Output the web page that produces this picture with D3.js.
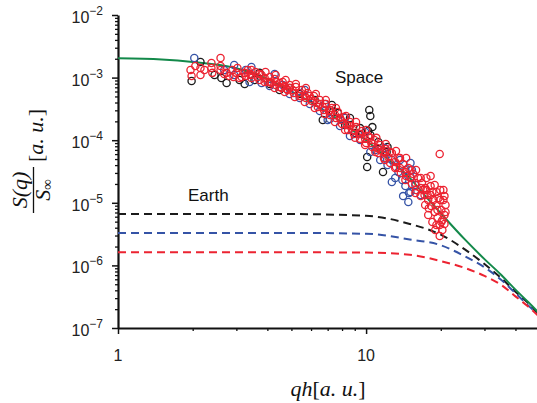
<!DOCTYPE html>
<html>
<head>
<meta charset="utf-8">
<script src="https://cdn.jsdelivr.net/npm/d3@7/dist/d3.min.js"></script>
<style>
  html, body { margin: 0; padding: 0; background: #fff; }
  svg { display: block; }
  .tick-label { font-family: "Liberation Sans", Arial, sans-serif; font-size: 16px; fill: #222; }
  .math { font-family: "Liberation Serif", serif; fill: #111; }
  .note { font-family: "Liberation Sans", Arial, sans-serif; font-size: 17px; fill: #111; }
</style>
</head>
<body>
<svg id="chart" width="537" height="403"></svg>
<script>
// ---- data: [qh, S(q)/S_inf] ----

var spaceBlack = [
  [2.15, 1.78e-3], [1.98, 8.83e-4], [2.45, 1.10e-3], [2.61, 9.86e-4], [2.74, 8.21e-4],
  [3.72, 1.19e-3], [3.09, 9.16e-4], [3.24, 7.91e-4], [3.55, 9.16e-4], [4.48, 6.34e-4],
  [5.40, 5.47e-4], [7.28, 3.65e-4], [7.35, 2.82e-4], [7.70, 2.72e-4], [6.69, 2.10e-4],
  [10.3, 3.04e-4], [10.4, 2.44e-4], [10.6, 1.62e-4], [10.2, 1.40e-4], [10.4, 1.21e-4],
  [12.2, 7.79e-5], [12.1, 6.48e-5], [10.1, 5.39e-5], [10.1, 3.74e-5], [11.7, 3.11e-5],
  [8.23, 1.75e-4], [9.02, 1.30e-4], [6.21, 4.39e-4], [4.92, 6.83e-4], [4.09, 7.91e-4],
  [8.61, 2.26e-4], [9.46, 1.56e-4], [11.2, 9.36e-5]
];

var spaceBlue = [
  [2.03, 2.06e-3], [2.94, 1.10e-3], [3.45, 1.48e-3], [3.39, 8.51e-4], [3.79, 8.21e-4],
  [4.61, 7.62e-4], [5.40, 4.72e-4], [6.51, 2.93e-4], [7.85, 1.68e-4], [9.46, 1.01e-4],
  [10.9, 6.97e-5], [11.9, 5.20e-5], [12.7, 4.83e-5], [12.7, 2.15e-5], [15.1, 4.33e-5],
  [15.1, 1.49e-5], [14.8, 1.03e-5], [15.1, 2.59e-5], [14.9, 1.43e-5], [13.5, 3.11e-5],
  [14.0, 2.31e-5], [12.2, 4.02e-5], [11.4, 4.83e-5], [10.4, 6.48e-5], [8.61, 1.17e-4],
  [7.15, 2.18e-4], [5.93, 3.79e-4], [4.92, 5.47e-4], [4.09, 7.35e-4], [2.68, 1.32e-3],
  [3.27, 1.32e-3], [4.28, 1.14e-3], [5.66, 6.34e-4], [6.82, 3.79e-4], [8.23, 2.26e-4],
  [9.91, 1.35e-4], [11.9, 7.51e-5], [13.7, 4.83e-5], [14.4, 3.34e-5], [15.8, 1.92e-5],
  [16.6, 1.33e-5], [13.1, 2.49e-5], [14.1, 1.28e-5], [15.3, 3.34e-5], [14.4, 1.85e-5],
  [2.94, 1.59e-3], [7.00, 2.10e-4]
];

var spaceRed = [
  [1.96, 1.32e-3], [2.05, 1.53e-3], [2.15, 1.42e-3], [2.15, 1.10e-3], [1.98, 1.06e-3],
  [2.38, 1.71e-3], [2.38, 1.42e-3], [2.40, 1.19e-3], [2.59, 2.06e-3], [2.59, 1.53e-3],
  [2.59, 1.32e-3], [2.74, 1.19e-3], [2.81, 1.06e-3], [2.89, 1.32e-3], [3.00, 1.19e-3],
  [3.03, 1.42e-3], [3.15, 1.02e-3], [3.24, 1.19e-3], [3.33, 1.32e-3], [3.45, 1.32e-3],
  [3.45, 1.10e-3], [3.58, 1.23e-3], [3.65, 1.02e-3], [3.79, 1.10e-3], [3.90, 9.86e-4],
  [4.01, 8.51e-4], [4.09, 1.02e-3], [4.16, 8.21e-4], [4.28, 9.51e-4], [4.36, 8.51e-4],
  [4.48, 7.08e-4], [4.61, 8.51e-4], [4.79, 6.58e-4], [4.92, 7.62e-4], [5.06, 6.34e-4],
  [5.21, 7.08e-4], [5.36, 5.68e-4], [5.51, 6.34e-4], [5.66, 5.08e-4], [5.82, 5.68e-4],
  [5.99, 4.55e-4], [6.16, 5.08e-4], [6.33, 3.93e-4], [6.51, 4.39e-4], [6.69, 3.39e-4],
  [6.88, 3.79e-4], [7.08, 2.93e-4], [7.28, 3.27e-4], [7.49, 2.53e-4], [7.70, 2.82e-4],
  [7.92, 2.10e-4], [8.15, 2.35e-4], [8.38, 1.75e-4], [8.61, 1.95e-4], [8.86, 1.46e-4],
  [9.11, 1.62e-4], [9.37, 1.26e-4], [9.64, 1.40e-4], [9.91, 1.05e-4], [10.2, 1.17e-4],
  [10.5, 9.02e-5], [10.8, 1.01e-4], [11.1, 7.51e-5], [11.4, 8.38e-5], [11.7, 6.48e-5],
  [12.0, 7.23e-5], [12.3, 5.39e-5], [12.7, 6.24e-5], [13.1, 4.49e-5], [13.5, 5.20e-5],
  [13.7, 3.60e-5], [14.1, 4.17e-5], [14.4, 3.11e-5], [14.8, 3.60e-5], [15.1, 2.49e-5],
  [15.5, 2.89e-5], [15.8, 2.07e-5], [16.2, 2.49e-5], [16.6, 1.72e-5], [16.8, 2.07e-5],
  [17.2, 1.33e-5], [17.5, 1.60e-5], [17.8, 1.11e-5], [18.2, 1.33e-5], [18.3, 8.89e-6],
  [18.7, 1.11e-5], [18.9, 7.13e-6], [19.2, 9.22e-6], [19.4, 5.71e-6], [19.6, 1.19e-5],
  [19.8, 4.42e-6], [19.9, 1.60e-5], [20.1, 7.67e-6], [20.3, 5.31e-6], [20.5, 1.11e-5],
  [20.7, 6.38e-6], [20.9, 9.22e-6], [19.0, 3.67e-6], [19.8, 2.95e-6], [18.5, 4.94e-6],
  [17.8, 6.38e-6], [17.3, 9.22e-6], [16.6, 1.28e-5], [18.2, 1.85e-5], [19.2, 1.49e-5],
  [20.3, 3.67e-6], [20.7, 4.59e-6], [19.8, 6.02e-5], [18.2, 2.68e-5], [15.9, 1.60e-5],
  [15.3, 2.00e-5], [14.5, 2.68e-5], [13.8, 3.00e-5], [13.2, 3.74e-5], [12.5, 4.33e-5],
  [11.8, 5.20e-5], [11.2, 6.24e-5], [10.6, 7.79e-5], [10.0, 9.02e-5], [9.46, 1.05e-4],
  [8.94, 1.26e-4], [8.46, 1.46e-4], [8.00, 1.81e-4], [7.56, 2.26e-4], [7.15, 2.53e-4],
  [6.76, 3.04e-4], [6.39, 3.39e-4], [6.04, 4.23e-4], [5.72, 4.72e-4], [5.40, 5.08e-4],
  [5.11, 5.68e-4], [4.83, 6.34e-4], [4.57, 6.83e-4], [4.32, 7.62e-4], [4.09, 8.51e-4],
  [3.72, 9.16e-4], [3.45, 9.86e-4], [3.27, 1.06e-3], [3.09, 9.86e-4], [2.92, 1.02e-3],
  [9.11, 1.95e-4], [8.30, 2.44e-4], [7.56, 3.27e-4], [6.88, 4.39e-4], [6.27, 5.47e-4],
  [5.72, 6.83e-4], [5.21, 7.91e-4], [4.74, 9.16e-4], [4.32, 1.10e-3], [3.93, 1.23e-3],
  [10.0, 1.46e-4], [11.0, 1.09e-4], [12.0, 8.70e-5], [13.2, 6.72e-5], [14.5, 5.20e-5],
  [15.9, 3.34e-5], [17.5, 2.49e-5],
  [4.28, 6.83e-4], [4.70, 5.89e-4], [5.16, 4.90e-4], [5.66, 4.08e-4], [6.21, 3.27e-4],
  [6.82, 2.62e-4], [7.49, 1.95e-4], [8.23, 1.46e-4], [9.02, 1.09e-4], [9.91, 8.38e-5],
  [10.9, 6.48e-5], [11.9, 4.83e-5], [13.1, 3.60e-5], [14.4, 2.31e-5], [15.8, 1.43e-5],
  [4.48, 8.21e-4], [4.92, 6.83e-4], [5.93, 5.08e-4], [6.51, 3.79e-4], [7.15, 3.04e-4],
  [7.85, 2.26e-4], [8.61, 1.68e-4], [9.46, 1.26e-4], [10.4, 1.09e-4], [11.4, 6.97e-5],
  [12.5, 6.48e-5], [13.7, 5.20e-5], [15.1, 3.34e-5], [16.6, 2.49e-5], [17.3, 1.72e-5],
  [18.5, 1.49e-5], [19.4, 7.67e-6], [19.9, 1.11e-5], [20.5, 1.60e-5], [18.9, 1.92e-5],
  [17.9, 8.20e-6], [20.1, 4.94e-6], [19.2, 4.42e-6], [17.7, 1.33e-5], [17.0, 1.60e-5],
  [20.7, 1.28e-5], [20.9, 7.13e-6], [2.23, 1.32e-3], [2.68, 1.14e-3], [3.39, 1.14e-3],
  [3.72, 1.14e-3], [3.90, 8.51e-4], [4.70, 7.35e-4]
];

// fitted curve through the space data (solid green)
var fitQ = [1, 1.5, 2, 3, 4, 5, 6, 7, 8, 10, 12, 15, 17, 20, 25, 30, 35, 40, 45, 50];
var fitS = [2.04e-3, 1.95e-3, 1.78e-3, 1.41e-3, 9.5e-4, 6.0e-4, 4.0e-4, 2.75e-4, 1.9e-4,
  1.0e-4, 5.4e-5, 2.5e-5, 1.4e-5, 6.8e-6, 2.6e-6, 1.26e-6, 7.1e-7, 4.1e-7, 2.6e-7, 1.7e-7];

// earth curves (dashed)
var earthQ = [1, 5, 10, 15, 20, 25, 30, 35, 40, 45, 50];
var earthBlack = [6.6e-6, 6.6e-6, 6.2e-6, 4.6e-6, 3.1e-6, 1.8e-6, 1.05e-6, 6.3e-7, 3.8e-7, 2.5e-7, 1.6e-7];
var earthBlue = [3.3e-6, 3.3e-6, 3.2e-6, 2.6e-6, 2.1e-6, 1.4e-6, 9.3e-7, 5.9e-7, 3.6e-7, 2.3e-7, 1.55e-7];
var earthRed = [1.62e-6, 1.62e-6, 1.6e-6, 1.48e-6, 1.17e-6, 9.1e-7, 6.8e-7, 4.9e-7, 3.2e-7, 2.2e-7, 1.5e-7];

var xMajor = [1, 10];
var xMinor = [2, 3, 4, 5, 6, 7, 8, 9, 20, 30, 40];
var yExponents = [-2, -3, -4, -5, -6, -7];

var colors = {black: '#1b1b1b', blue: '#3553a6', red: '#ec2331', green: '#13894a'};

// ---- layout ----

var svg = d3.select('#chart');

var x = d3.scaleLog().domain([1, 50]).range([118, 539.5]);
var y = d3.scaleLog().domain([1e-7, 1e-2]).range([328, 15]);

/**
 * Minor ticks for a log axis: 2..9 times every decade in the domain.
 */
function logMinorTicks(lo, hi) {
  var ticks = [];
  for (var e = lo; e < hi; e++) {
    for (var m = 2; m <= 9; m++) {
      ticks.push(m * Math.pow(10, e));
    }
  }
  return ticks;
}

/**
 * Draws an axis line with outward major and minor ticks.
 */
function drawAxis(axisFn, scale, major, minor, transform) {
  var g = svg.append('g').attr('transform', transform);

  g.append('g')
    .call(axisFn(scale).tickValues(minor).tickSize(3).tickSizeOuter(0).tickFormat(''))
    .call(function(s) { s.select('.domain').remove(); })
    .selectAll('line').attr('stroke', '#111').attr('stroke-width', 1.3);

  g.append('g')
    .call(axisFn(scale).tickValues(major).tickSize(6).tickSizeOuter(0).tickFormat(''))
    .call(function(s) {
      s.select('.domain').attr('stroke', '#111').attr('stroke-width', 2.2);
    })
    .selectAll('line').attr('stroke', '#111').attr('stroke-width', 1.5);

  return g;
}

drawAxis(d3.axisLeft, y,
  yExponents.map(function(e) { return Math.pow(10, e); }),
  logMinorTicks(-7, -2), 'translate(118,0)');

drawAxis(d3.axisBottom, x, xMajor, xMinor, 'translate(0,328)');

// y tick labels with superscript exponents
var yLabels = svg.append('g').attr('class', 'tick-label');
yExponents.forEach(function(e) {
  var t = yLabels.append('text')
    .attr('x', 103)
    .attr('y', y(Math.pow(10, e)) + 8)
    .attr('text-anchor', 'end');
  t.append('tspan').text('10');
  t.append('tspan').attr('dy', -8).attr('font-size', 12).text('\u2212' + Math.abs(e));
});

svg.append('g').attr('class', 'tick-label')
  .selectAll('text')
  .data(xMajor)
  .enter()
  .append('text')
  .attr('x', function(d) { return x(d); })
  .attr('y', 361)
  .attr('text-anchor', 'middle')
  .text(String);

// ---- curves ----

var line = d3.line()
  .x(function(d) { return x(d[0]); })
  .y(function(d) { return y(d[1]); })
  .curve(d3.curveMonotoneX);

function zip(qs, ss) {
  return qs.map(function(q, i) { return [q, ss[i]]; });
}

var plot = svg.append('g');

[[earthBlack, colors.black], [earthBlue, colors.blue], [earthRed, colors.red]]
  .forEach(function(c) {
    plot.append('path')
      .datum(zip(earthQ, c[0]))
      .attr('d', line)
      .attr('fill', 'none')
      .attr('stroke', c[1])
      .attr('stroke-width', 2)
      .attr('stroke-dasharray', '8,5');
  });

plot.append('path')
  .datum(zip(fitQ, fitS))
  .attr('d', line)
  .attr('fill', 'none')
  .attr('stroke', colors.green)
  .attr('stroke-width', 2);

// ---- space data (open circles), drawn over the fit ----

[[spaceBlack, colors.black], [spaceBlue, colors.blue], [spaceRed, colors.red]]
  .forEach(function(s) {
    plot.append('g')
      .selectAll('circle')
      .data(s[0])
      .enter()
      .append('circle')
      .attr('cx', function(d) { return x(d[0]); })
      .attr('cy', function(d) { return y(d[1]); })
      .attr('r', 3.6)
      .attr('fill', 'none')
      .attr('stroke', s[1])
      .attr('stroke-width', 1.3);
  });

// ---- annotations ----

svg.append('text').attr('class', 'note').attr('x', 335).attr('y', 83).text('Space');
svg.append('text').attr('class', 'note').attr('x', 188).attr('y', 201).text('Earth');

// x title: qh[a.u.]
var xt = svg.append('text')
  .attr('class', 'math')
  .attr('x', 328)
  .attr('y', 396)
  .attr('text-anchor', 'middle')
  .attr('font-size', 22);
xt.append('tspan').attr('font-style', 'italic').text('qh');
xt.append('tspan').text('[');
xt.append('tspan').attr('font-style', 'italic').text('a. u.');
xt.append('tspan').text(']');

// y title: S(q)/S∞ [a.u.], rotated
var yt = svg.append('g')
  .attr('class', 'math')
  .attr('transform', 'translate(0,190) rotate(-90)');
yt.append('text')
  .attr('x', 0).attr('y', 27)
  .attr('text-anchor', 'middle')
  .attr('font-size', 22)
  .attr('font-style', 'italic')
  .text('S(q)');
yt.append('line')
  .attr('x1', -23).attr('x2', 23)
  .attr('y1', 33.5).attr('y2', 33.5)
  .attr('stroke', '#111').attr('stroke-width', 1.3);
var den = yt.append('text')
  .attr('x', 0).attr('y', 50)
  .attr('text-anchor', 'middle')
  .attr('font-size', 22)
  .attr('font-style', 'italic');
den.append('tspan').text('S');
den.append('tspan').attr('font-size', 15).attr('font-style', 'normal').attr('dy', 2).text('\u221e');
var unit = yt.append('text')
  .attr('x', 28).attr('y', 43)
  .attr('font-size', 22);
unit.append('tspan').text('[');
unit.append('tspan').attr('font-style', 'italic').text('a. u.');
unit.append('tspan').text(']');
</script>
</body>
</html>
